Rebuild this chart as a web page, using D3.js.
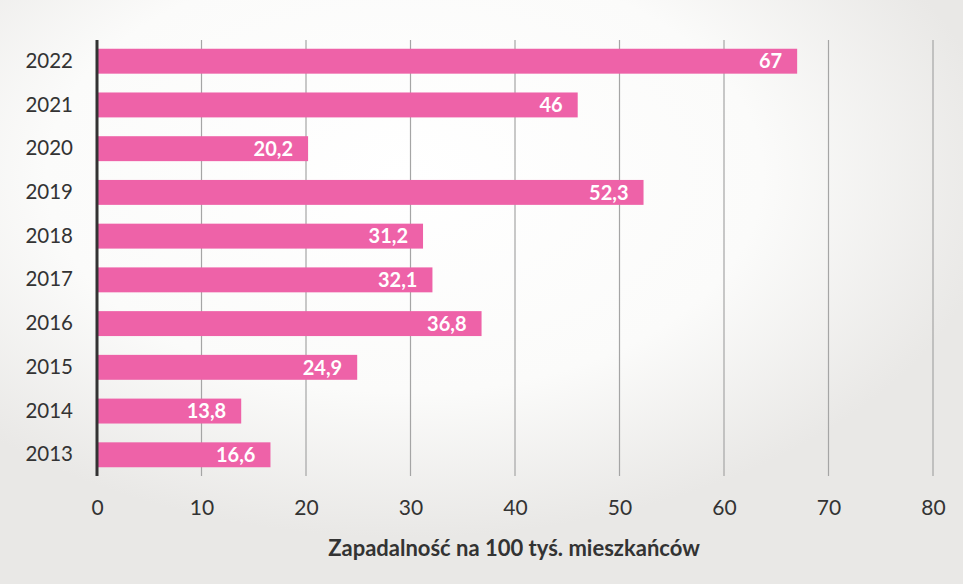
<!DOCTYPE html>
<html>
<head>
<meta charset="utf-8">
<script src="https://cdn.jsdelivr.net/npm/d3@7"></script>
<style>
html,body{margin:0;padding:0;background:#ecebe9;}
svg{display:block;}
</style>
</head>
<body>
<svg id="chart" width="963" height="584"></svg>
<script>
const years = ["2022","2021","2020","2019","2018","2017","2016","2015","2014","2013"];
const values = [67, 46, 20.2, 52.3, 31.2, 32.1, 36.8, 24.9, 13.8, 16.6];
const labels = ["67","46","20,2","52,3","31,2","32,1","36,8","24,9","13,8","16,6"];
const xTicks = [0,10,20,30,40,50,60,70,80];
const axisTitle = "Zapadalność na 100 tyś. mieszkańców";

const W = 963, H = 584;
const svg = d3.select("#chart");
const FONT = "Lato, 'Open Sans', sans-serif";

// scanned paper background
const defs = svg.append("defs");
const g1 = defs.append("radialGradient").attr("id","paper").attr("cx","0.42").attr("cy","0.3").attr("r","0.62");
g1.append("stop").attr("offset","0").attr("stop-color","#ffffff");
g1.append("stop").attr("offset","0.6").attr("stop-color","#fbfbfa");
g1.append("stop").attr("offset","1").attr("stop-color","#e9e8e6");
svg.append("rect").attr("width",W).attr("height",H).attr("fill","url(#paper)");

const x = d3.scaleLinear().domain([0,80]).range([97, 933]);
const y = d3.scaleBand().domain(years).range([40, 476]).paddingInner(0.43).paddingOuter(0.2);

// gridlines
svg.append("g").selectAll("line").data(xTicks.slice(1)).join("line")
  .attr("x1", d=>x(d)).attr("x2", d=>x(d))
  .attr("y1", 40).attr("y2", 476)
  .attr("stroke", "#a5a5a5").attr("stroke-width", 1.2);

// bars
svg.append("g").selectAll("rect").data(years).join("rect")
  .attr("x", x(0))
  .attr("y", d=>y(d))
  .attr("width", (d,i)=>x(values[i]) - x(0))
  .attr("height", y.bandwidth())
  .attr("fill", "#ee62a8");

// value labels
svg.append("g").selectAll("text").data(years).join("text")
  .attr("x", (d,i)=>x(values[i]) - 15)
  .attr("y", d=>y(d) + y.bandwidth()/2)
  .attr("dy","0.36em")
  .attr("text-anchor","end")
  .attr("font-family",FONT)
  .attr("font-weight","bold")
  .attr("font-size","20px")
  .attr("fill","#ffffff")
  .text((d,i)=>labels[i]);

// y axis line
svg.append("line").attr("x1", x(0)).attr("x2", x(0)).attr("y1", 40).attr("y2", 476)
  .attr("stroke","#333").attr("stroke-width",3);

// year labels
const yAxis = d3.axisLeft(y).tickSize(0).tickPadding(24);
const ya = svg.append("g").attr("transform",`translate(${x(0)},0)`).call(yAxis);
ya.select(".domain").remove();
ya.selectAll("text").attr("font-family",FONT).attr("font-size","20.5px").attr("fill","#333");

// x tick labels
const xAxis = d3.axisBottom(x).tickValues(xTicks).tickSize(0).tickPadding(24);
const xa = svg.append("g").attr("transform",`translate(0,476)`).call(xAxis);
xa.select(".domain").remove();
xa.selectAll("text").attr("font-family",FONT).attr("font-size","21px").attr("fill","#333");

// axis title
svg.append("text").attr("x", 514).attr("y", 548).attr("dy","0.35em")
  .attr("text-anchor","middle")
  .attr("font-family",FONT)
  .attr("font-weight","bold").attr("font-size","22px").attr("fill","#333")
  .text(axisTitle);
</script>
</body>
</html>
